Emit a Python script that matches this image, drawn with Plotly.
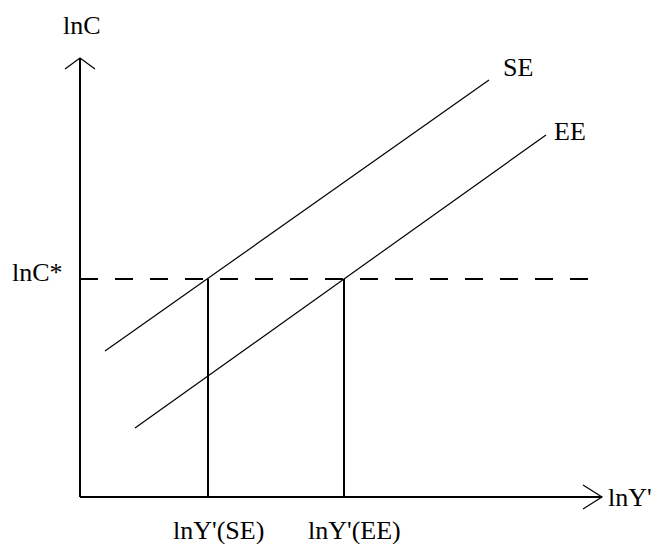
import plotly.graph_objects as go

# Diagram values (in drawing units, origin at the axes' corner)
x_axis_end = 522
y_axis_end = 439
lnC_star = 218
dash_end = 517
se_x = [25, 409]
se_y = [146, 417]
ee_x = [55, 466]
ee_y = [69, 362]
y_se = 128
y_ee = 264
tick_labels = ["lnY'(SE)", "lnY'(EE)"]
tick_pos = [y_se, y_ee]
curve_labels = ["SE", "EE"]

FONT = "Liberation Serif, Times New Roman, serif"
fs = 26

fig = go.Figure()

def seg(xs, ys, width=2, dash=None):
    fig.add_trace(go.Scatter(x=xs, y=ys, mode="lines",
                             line=dict(color="black", width=width, dash=dash),
                             hoverinfo="skip", showlegend=False))

# axes
seg([0, 0], [0, y_axis_end], 2)
seg([0, x_axis_end], [0, 0], 2)
# arrow heads
seg([-15, 0, 15], [y_axis_end - 11, y_axis_end, y_axis_end - 11], 1.2)
seg([x_axis_end - 19, x_axis_end, x_axis_end - 19], [12, 0, -12], 1.2)
# dashed lnC* line
seg([0, dash_end], [lnC_star, lnC_star], 2, "18px,17px")
# SE and EE lines
seg(se_x, se_y, 1.2)
seg(ee_x, ee_y, 1.2)
# verticals
seg([y_se, y_se], [0, lnC_star], 2)
seg([y_ee, y_ee], [0, lnC_star], 2)

ann = []
def text(x, y, t, xanchor="center"):
    ann.append(dict(x=x, y=y, text=t, showarrow=False, xanchor=xanchor,
                    yanchor="middle", font=dict(family=FONT, size=fs, color="black")))

text(2, 472, "lnC")
text(-43, 225, "lnC*")
text(526, 0, "lnY'", xanchor="left")
for p, t in zip(tick_pos, tick_labels):
    text(p + 10, -33, t)
text(438, 430, curve_labels[0])
text(490, 366, curve_labels[1])

fig.update_layout(
    width=654, height=544,
    margin=dict(l=0, r=0, t=0, b=0),
    paper_bgcolor="white", plot_bgcolor="white",
    xaxis=dict(range=[-80, 574], visible=False, fixedrange=True),
    yaxis=dict(range=[-47, 497], visible=False, fixedrange=True),
    annotations=ann,
)

fig.write_html("out.html",
               config={"displayModeBar": False},
               post_script="document.body.style.margin='0';document.body.style.overflow='hidden';")
